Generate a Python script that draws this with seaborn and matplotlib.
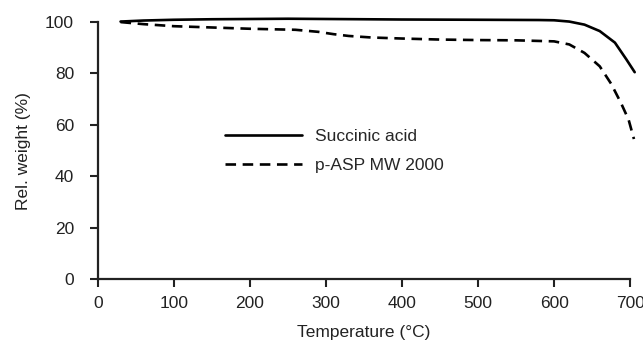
import pandas as pd
import matplotlib.pyplot as plt
import seaborn as sns

# TGA curves
temp_succinic = [30, 60, 100, 150, 250, 300, 400, 500, 580, 600, 620, 640, 660, 680, 695, 706]
weight_succinic = [100.2, 100.6, 100.9, 101.1, 101.3, 101.2, 101.0, 100.9, 100.8, 100.7, 100.2, 99.0, 96.5, 92.0, 85.5, 80.5]

temp_pasp = [30, 60, 100, 150, 200, 260, 290, 310, 330, 360, 400, 450, 500, 550, 600, 620, 640, 660, 675, 688, 698, 705]
weight_pasp = [100.0, 99.2, 98.4, 97.9, 97.4, 97.0, 96.2, 95.3, 94.6, 94.0, 93.6, 93.2, 93.0, 92.9, 92.5, 91.3, 88.0, 82.8, 76.0, 68.5, 62.0, 54.5]

SERIES = ['Succinic acid', 'p-ASP MW 2000']

sns.set_theme(style="ticks")
plt.rcParams['font.family'] = ['Liberation Sans', 'DejaVu Sans']

df = pd.concat([
    pd.DataFrame({'Temperature': temp_succinic, 'Weight': weight_succinic, 'Sample': SERIES[0]}),
    pd.DataFrame({'Temperature': temp_pasp, 'Weight': weight_pasp, 'Sample': SERIES[1]}),
])

fig = plt.figure(figsize=(6.43, 3.45), dpi=100)
ax = fig.add_axes([0.152, 0.191, 0.828, 0.745])

sns.lineplot(data=df, x='Temperature', y='Weight', hue='Sample', style='Sample',
             palette=['black', 'black'], dashes=[(None, None), (4, 2.5)],
             linewidth=1.9, ax=ax, sort=False, estimator=None)

for line in ax.lines:
    line.set_clip_on(False)

ax.set_xlim(0, 700)
ax.set_ylim(0, 100)
ax.set_xticks(range(0, 701, 100))
ax.set_yticks(range(0, 101, 20))
ax.tick_params(axis='both', labelsize=12.5, width=1.5, length=6, color='#222222', labelcolor='#222222')
ax.tick_params(axis='x', pad=6)
ax.tick_params(axis='y', pad=11)
for s in ['left', 'bottom']:
    ax.spines[s].set_linewidth(1.6)
    ax.spines[s].set_color('#222222')
sns.despine(ax=ax)

ax.set_xlabel('Temperature (°C)', fontsize=12.5, color='#222222', labelpad=10)
ax.set_ylabel('Rel. weight (%)', fontsize=12.5, color='#222222', labelpad=10)

leg = ax.legend(title=None, frameon=False, fontsize=12.5, loc='center left',
                bbox_to_anchor=(0.21, 0.5), handlelength=4.4, handletextpad=0.8,
                labelspacing=0.8)
for h in leg.legend_handles:
    h.set_linewidth(1.9)

fig.savefig('out.png', dpi=100)
